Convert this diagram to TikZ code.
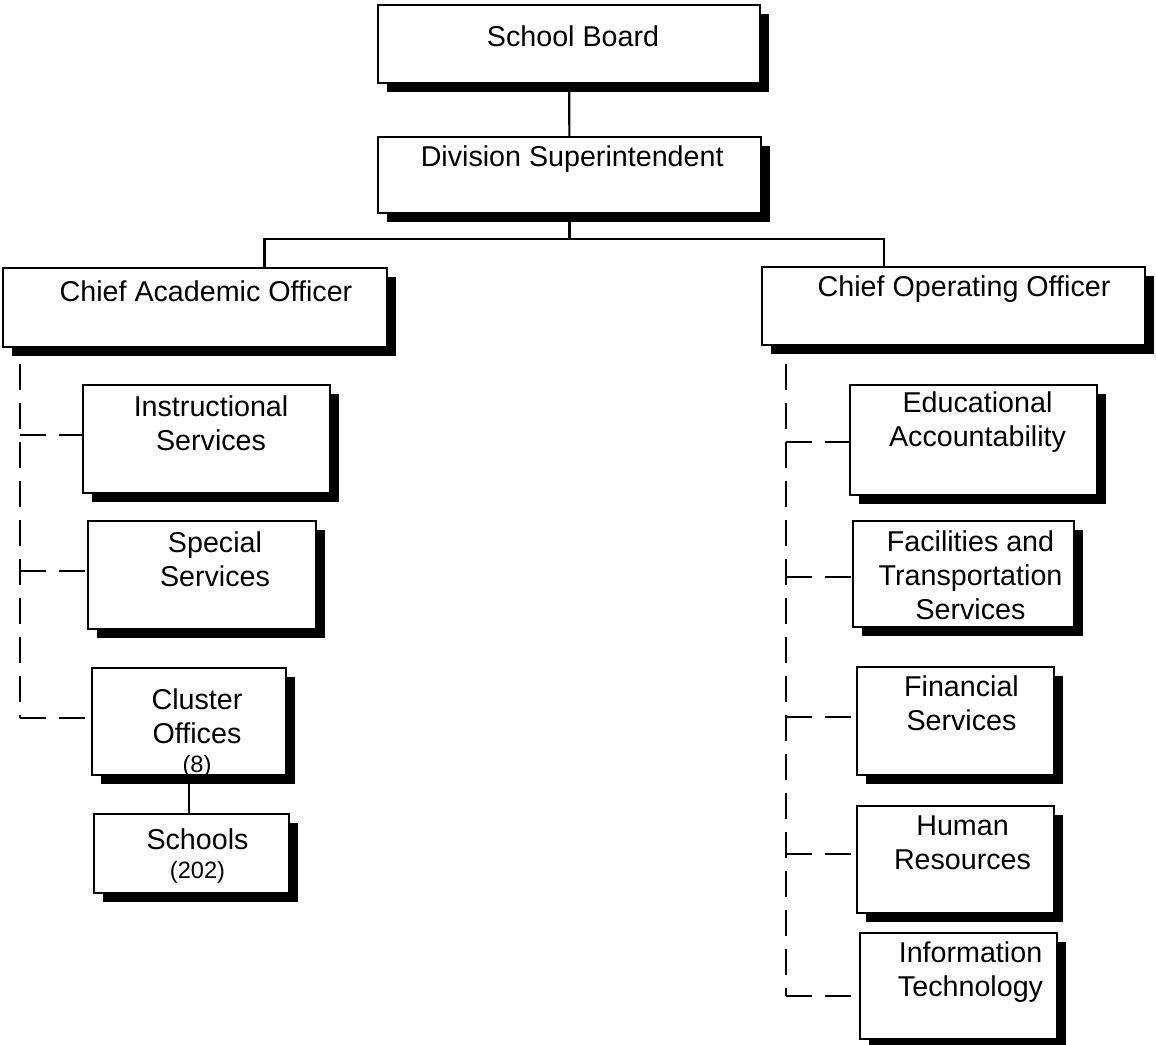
\documentclass[tikz,border=0pt]{standalone}
\usepackage{fontspec}
\setmainfont{Liberation Sans}
\usetikzlibrary{calc,shadows}

\newcommand{\bigfont}{\fontsize{21.5}{25.5}\selectfont}
\newcommand{\smallfont}{\fontsize{17.7}{21}\selectfont}

\begin{document}
\begin{tikzpicture}[x=0.75pt, y=-0.75pt,
  box/.style={draw, line width=1.6pt, fill=white, inner sep=0pt,
              drop shadow={shadow xshift=6.5pt, shadow yshift=-6.5pt, fill=black, opacity=1}},
  lbl/.style={anchor=north, inner sep=0pt, align=center, font=\bigfont},
  conn/.style={line width=1.6pt},
  dashline/.style={line width=1.6pt, dash pattern=on 19.5pt off 9.75pt}]
  \useasboundingbox (0,0) rectangle (1156,1045);

  % top of the chart
  \node[box, minimum width=286.5pt, minimum height=58.5pt,
    label={[lbl, xshift=3pt, yshift=-16.5pt]north:School Board}] (sb) at (569,44) {};
  \node[box, minimum width=287.25pt, minimum height=57pt,
    label={[lbl, xshift=2pt, yshift=-7.5pt]north:Division Superintendent}] (ds) at (569.5,175) {};
  \node[box, minimum width=288pt, minimum height=59.25pt,
    label={[lbl, xshift=8.25pt, yshift=-10.5pt]north:Chief Academic Officer}] (cao) at (195,307.5) {};
  \node[box, minimum width=287.25pt, minimum height=58.5pt,
    label={[lbl, xshift=7.9pt, yshift=-7.5pt]north:Chief Operating Officer}] (coo) at (953.5,306) {};

  % academic side
  \node[box, minimum width=185.25pt, minimum height=81pt,
    label={[lbl, xshift=3.4pt, yshift=-9pt]north:{Instructional\\Services}}] (ins) at (206.5,439) {};
  \node[box, minimum width=171pt, minimum height=81pt,
    label={[lbl, xshift=9.75pt, yshift=-9pt]north:{Special\\Services}}] (sps) at (202,575) {};
  \node[box, minimum width=145.5pt, minimum height=80.25pt,
    label={[lbl, xshift=6pt, yshift=-16.5pt]north:{Cluster\\Offices\\[-4pt]{\smallfont (8)}}}] (clu) at (189,721.5) {};
  \node[box, minimum width=146.25pt, minimum height=59.25pt,
    label={[lbl, xshift=4.5pt, yshift=-12pt]north:{Schools\\[-4pt]{\smallfont (202)}}}] (sch) at (191.5,853.5) {};

  % operating side
  \node[box, minimum width=185.25pt, minimum height=82.5pt,
    label={[lbl, xshift=3pt, yshift=-6pt]north:{Educational\\Accountability}}] (edu) at (973.5,440) {};
  \node[box, minimum width=165.75pt, minimum height=79.5pt,
    label={[lbl, xshift=5.25pt, yshift=-8.25pt]north:{Facilities and\\Transportation\\Services}}] (fac) at (963.5,574) {};
  \node[box, minimum width=147.75pt, minimum height=81pt,
    label={[lbl, xshift=4.5pt, yshift=-7.5pt]north:{Financial\\Services}}] (fin) at (955.5,721) {};
  \node[box, minimum width=147.75pt, minimum height=80.25pt,
    label={[lbl, xshift=5.25pt, yshift=-8.25pt]north:{Human\\Resources}}] (hum) at (955.5,859.5) {};
  \node[box, minimum width=147.75pt, minimum height=79.5pt,
    label={[lbl, xshift=9pt, yshift=-7.5pt]north:{Information\\Technology}}] (inf) at (958.5,986) {};

  % solid lines
  \draw[conn] (sb) -- (ds);
  \coordinate (bus) at ($(ds.south)+(0,25)$);
  \draw[conn] (ds.south) -- (bus);
  \draw[conn] ($(cao.north west)!.68!(cao.north east)$) |- (bus)
    -| ($(coo.north west)!.32!(coo.north east)$);
  \draw[conn] (clu.south) -- (clu.south |- sch.north);

  % dashed lines
  \coordinate (ltop) at ($(cao.south west)+(18,16)$);
  \draw[dashline] (ltop) -- ($(ltop |- clu.west)+(0,-3.5)$);
  \foreach \n/\dy in {ins/-4,sps/-4,clu/-3.5}
    \draw[dashline] ($(ltop |- \n.west)+(0,\dy)$) -- ($(\n.west)+(0,\dy)$);
  \coordinate (rtop) at ($(coo.south west)+(25,18)$);
  \draw[dashline] (rtop) -- ($(rtop |- inf.west)+(0,10)$);
  \foreach \n/\dy in {edu/2,fac/3,fin/-4,hum/-5.5,inf/10}
    \draw[dashline] ($(rtop |- \n.west)+(0,\dy)$) -- ($(\n.west)+(0,\dy)$);
\end{tikzpicture}
\end{document}
